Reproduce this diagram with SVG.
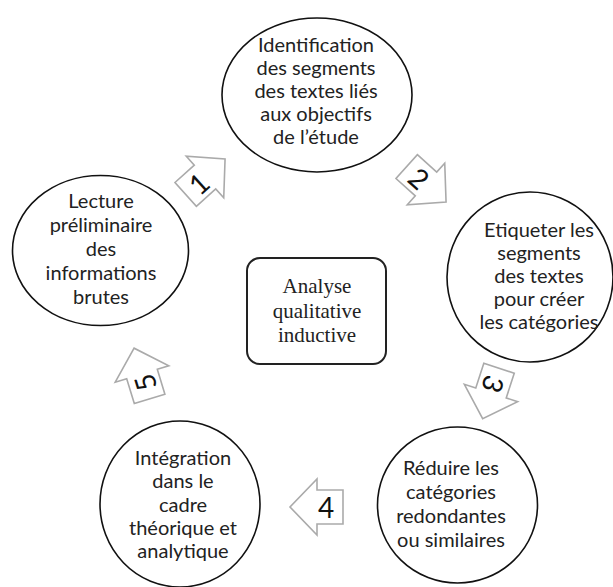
<svg xmlns="http://www.w3.org/2000/svg" width="613" height="587" viewBox="0 0 613 587">
<style>
.node ellipse{fill:#fff;stroke:#111;stroke-width:1.6}
.node text{font-family:Lato,"Open Sans","Liberation Sans",sans-serif;font-size:20px;fill:#222;text-anchor:middle}
.box rect{fill:#fff;stroke:#222;stroke-width:2}
.box text{font-family:"Liberation Serif","Times New Roman",serif;font-size:21px;fill:#222;text-anchor:middle}
.blk{fill:#fff;stroke:#aaa;stroke-width:1.6;stroke-linejoin:miter}
.arr text{font-family:Lato,"Open Sans","Liberation Sans",sans-serif;font-size:28px;fill:#111;text-anchor:middle;dominant-baseline:central}
</style>
<rect width="613" height="587" fill="#fff"/>

<g id="connectors" class="arr">
<g id="arrow1" transform="translate(205,177) rotate(-42)"><path class="blk" d="M-26,-16 L0,-16 L0,-28 L27,0 L0,28 L0,16 L-26,16 Z"/><text x="-9" y="0">1</text></g>
<g id="arrow2" transform="translate(426,184) rotate(42)"><path class="blk" d="M-26,-16 L0,-16 L0,-28 L27,0 L0,28 L0,16 L-26,16 Z"/><text x="-9" y="0">2</text></g>
<g id="arrow3" transform="translate(491,393) rotate(108)"><path class="blk" d="M-26,-16 L0,-16 L0,-28 L27,0 L0,28 L0,16 L-26,16 Z"/><text x="-9" y="0">3</text></g>
<g id="arrow4"><path class="blk" transform="translate(317,507) rotate(180)" d="M-26,-17 L0,-17 L0,-28 L27,0 L0,28 L0,17 L-26,17 Z"/><text x="326" y="507">4</text></g>
<g id="arrow5" transform="translate(142,374) rotate(-107)"><path class="blk" d="M-26,-16 L0,-16 L0,-28 L27,0 L0,28 L0,16 L-26,16 Z"/><text x="-9" y="0">5</text></g>
</g>

<g id="n-identification" class="node">
<ellipse cx="317" cy="95" rx="95" ry="77"/>
<text x="316" y="52">Identification</text>
<text x="316" y="75">des segments</text>
<text x="316" y="98">des textes liés</text>
<text x="316" y="121">aux objectifs</text>
<text x="316" y="144">de l’étude</text>
</g>

<g id="n-lecture" class="node">
<ellipse cx="100.5" cy="250.5" rx="88" ry="75"/>
<text x="101" y="208">Lecture</text>
<text x="101" y="232">préliminaire</text>
<text x="101" y="256">des</text>
<text x="101" y="280">informations</text>
<text x="101" y="304">brutes</text>
</g>

<g id="n-etiqueter" class="node">
<ellipse cx="530" cy="277" rx="83" ry="85"/>
<text x="539" y="237">Etiqueter les</text>
<text x="539" y="260">segments</text>
<text x="539" y="283">des textes</text>
<text x="539" y="306">pour créer</text>
<text x="539" y="329">les catégories</text>
</g>

<g id="n-reduire" class="node">
<ellipse cx="457.5" cy="505" rx="80" ry="78"/>
<text x="451" y="475">Réduire les</text>
<text x="451" y="499">catégories</text>
<text x="451" y="523">redondantes</text>
<text x="451" y="547">ou similaires</text>
</g>

<g id="n-integration" class="node">
<ellipse cx="180" cy="504" rx="80" ry="83"/>
<text x="183" y="465">Intégration</text>
<text x="183" y="488">dans le</text>
<text x="183" y="512">cadre</text>
<text x="183" y="535">théorique et</text>
<text x="183" y="558">analytique</text>
</g>

<g id="n-analyse" class="box">
<rect x="247" y="258" width="139" height="106" rx="13" ry="13"/>
<text x="317" y="293">Analyse</text>
<text x="317" y="318">qualitative</text>
<text x="317" y="342">inductive</text>
</g>
</svg>
